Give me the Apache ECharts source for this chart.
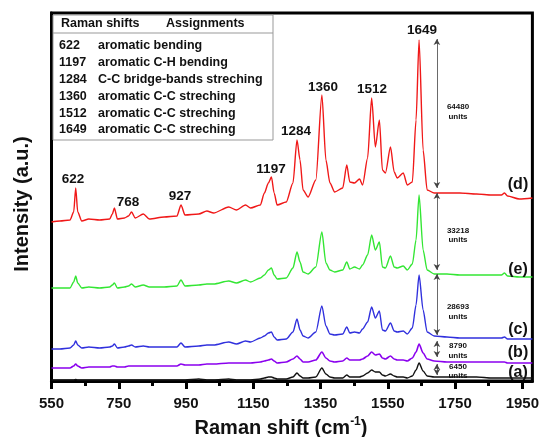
<!DOCTYPE html>
<html>
<head>
<meta charset="utf-8" />
<title>Raman spectra</title>
<script src="https://cdn.jsdelivr.net/npm/echarts@6/dist/echarts.min.js"></script>
<style>
  html, body { margin: 0; padding: 0; background: #fff; }
  #main { width: 542px; height: 437px; }
</style>
</head>
<body>
<div id="main"></div>
<script type="text/javascript">
// Raman shift (cm-1) sample positions, shared by all five spectra
var shifts = [550, 575, 605, 616, 622, 628, 640, 661, 693, 723,
  731, 737, 746, 767, 779, 788, 799, 823, 841, 885,
  923, 935, 947, 988, 1012, 1032, 1077, 1100, 1127, 1142,
  1171, 1183, 1195, 1204, 1212, 1221, 1248, 1268, 1280, 1289,
  1298, 1313, 1336, 1354, 1366, 1378, 1392, 1416, 1428, 1437,
  1451, 1466, 1475, 1490, 1502, 1513, 1525, 1534, 1543, 1558,
  1569, 1578, 1596, 1608, 1623, 1634, 1643, 1655, 1667, 1688,
  1726, 1764, 1814, 1859, 1888, 1897, 1906, 1941, 1980];

// intensities (a.u., stacked with offsets as in the figure)
var specD = [159, 160, 161, 169, 193, 169, 160, 162, 161, 162,
  167, 173, 162, 163, 165, 169, 163, 167, 162, 164,
  165, 176, 166, 167, 170, 168, 174, 171, 176, 173,
  176, 188, 198, 204, 188, 176, 179, 198, 241, 221,
  191, 184, 201, 286, 221, 198, 189, 193, 216, 199,
  198, 202, 196, 223, 283, 234, 261, 211, 208, 234,
  209, 203, 208, 196, 199, 261, 341, 231, 191, 188,
  188, 188, 187, 186, 186, 188, 185, 182, 183];
var specE = [93, 93, 93, 99, 105, 98, 93, 94, 93, 94,
  96, 98, 93, 94, 95, 97, 94, 96, 94, 94,
  95, 101, 95, 96, 97, 97, 100, 98, 101, 99,
  103, 106, 111, 113, 106, 102, 103, 113, 129, 119,
  109, 107, 114, 149, 118, 111, 109, 111, 119, 112,
  114, 112, 116, 126, 146, 131, 139, 114, 113, 125,
  114, 113, 115, 111, 117, 141, 186, 131, 111, 107,
  107, 106, 106, 106, 106, 108, 105, 104, 104];
var specC = [32, 32, 33, 36, 40, 36, 33, 34, 33, 34,
  35, 37, 33, 34, 35, 36, 34, 35, 34, 34,
  34, 38, 34, 35, 36, 36, 39, 37, 40, 39,
  43, 45, 48, 49, 44, 41, 42, 49, 62, 51,
  45, 43, 49, 75, 55, 47, 46, 47, 54, 48,
  49, 48, 52, 59, 74, 63, 70, 51, 50, 58,
  50, 49, 50, 47, 53, 76, 106, 71, 49, 45,
  44, 43, 43, 43, 43, 44, 42, 42, 42];
var specB = [13, 13, 13, 15, 17, 15, 13, 14, 14, 14,
  15, 15, 14, 14, 15, 15, 15, 15, 15, 15,
  15, 17, 16, 16, 17, 17, 18, 18, 18, 18,
  19, 20, 21, 22, 20, 18, 19, 22, 25, 22,
  19, 19, 21, 29, 23, 20, 19, 20, 23, 21,
  21, 21, 22, 25, 29, 26, 27, 23, 22, 25,
  22, 21, 21, 20, 23, 29, 37, 28, 22, 20,
  19, 19, 19, 19, 19, 19, 18, 18, 18];
var specA = [1, 1, 1, 1, 1.5, 1, 1, 1, 1, 1,
  1, 1, 1, 1, 1, 1, 1, 1, 1, 1,
  1, 1, 1, 2, 1, 1, 2, 1, 1, 1,
  2, 3, 4, 4, 3, 2, 2, 4, 8, 5,
  3, 3, 4, 13, 7, 4, 3, 3, 6, 4,
  4, 4, 5, 8, 11, 9, 9, 6, 5, 7,
  5, 4, 4, 3, 5, 11, 18, 10, 5, 4,
  4, 4, 4, 3, 3, 3, 3, 3, 3];

var xTicks = [550, 750, 950, 1150, 1350, 1550, 1750, 1950];
var xMinorTicks = [650, 850, 1050, 1250, 1450, 1650, 1850];

// peak-to-baseline spans marked with arrows, and their texts
var arrowShift = 1696;
var arrowSpans = [[342, 193], [188, 111], [107, 46], [40, 24], [17, 6]];
var unitTexts = ['64480', '33218', '28693', '8790', '6450'];

var peakLabels = ['622', '768', '927', '1197', '1284', '1360', '1512', '1649'];
var curveNames = ['(d)', '(e)', '(c)', '(b)', '(a)'];

var tableShifts = ['622', '1197', '1284', '1360', '1512', '1649'];
var tableAssign = ['aromatic bending', 'aromatic C-H bending', 'C-C bridge-bands streching',
  'aromatic C-C streching', 'aromatic C-C streching', 'aromatic C-C streching'];

var FONT = 'Liberation Sans, Arial, sans-serif';

function pairs(vals) {
  return shifts.map(function (x, i) { return [x, vals[i]]; });
}

function txt(x, y, text, size, align, extra) {
  var st = {
    text: text, fontSize: size, fontWeight: 'bold', fontFamily: FONT, fill: '#111',
    align: align || 'center', textAlign: align || 'center',
    verticalAlign: 'middle', textVerticalAlign: 'middle'
  };
  if (extra) { for (var k in extra) st[k] = extra[k]; }
  return { type: 'text', x: x, y: y, z: 50, silent: true, style: st };
}

var graphics = [];
// table box
graphics.push({ type: 'rect', z: 40, silent: true, shape: { x: 53, y: 15, width: 220, height: 125 },
  style: { fill: '#fff', stroke: '#999', lineWidth: 1 } });
graphics.push({ type: 'line', z: 41, silent: true, shape: { x1: 53, y1: 33, x2: 273, y2: 33 },
  style: { stroke: '#999', lineWidth: 1 } });
graphics.push(txt(61, 24, 'Raman shifts', 12.5, 'left'));
graphics.push(txt(166, 24, 'Assignments', 12.5, 'left'));
tableShifts.forEach(function (s, i) {
  var y = 46 + i * 16.8;
  graphics.push(txt(59, y, s, 12.5, 'left'));
  graphics.push(txt(98, y, tableAssign[i], 12.5, 'left'));
});
// peak labels on (d)
var peakPos = [[73, 179], [128, 202], [180, 196], [271, 169], [296, 131], [323, 87], [372, 89], [422, 30]];
peakLabels.forEach(function (p, i) {
  graphics.push(txt(peakPos[i][0], peakPos[i][1], p, 13.5, 'center'));
});
// curve names
var namePos = [185, 270, 330, 353, 373];
curveNames.forEach(function (n, i) {
  graphics.push(txt(518, namePos[i], n, 16, 'center'));
});
// units texts
var unitPos = [112, 235.5, 312, 351, 371.5];
unitTexts.forEach(function (u, i) {
  graphics.push(txt(458, unitPos[i], u + '\nunits', 8, 'center', { lineHeight: 9.5 }));
});
// y-axis title
var yTitle = txt(22, 204, 'Intensity (a.u.)', 20, 'center');
yTitle.rotation = Math.PI / 2;
graphics.push(yTitle);
// x-axis title with superscript
graphics.push({
  type: 'text', x: 281, y: 428, z: 50, silent: true,
  style: {
    text: '{a|Raman shift (cm}{b|-1}{a|)}',
    align: 'center', textAlign: 'center', verticalAlign: 'middle', textVerticalAlign: 'middle',
    fill: '#111',
    rich: {
      a: { fontSize: 20, fontWeight: 'bold', fontFamily: FONT, fill: '#111', lineHeight: 24 },
      b: { fontSize: 12, fontWeight: 'bold', fontFamily: FONT, fill: '#111', verticalAlign: 'top', lineHeight: 14 }
    }
  }
});

var myChart = echarts.init(document.getElementById('main'));

var lineCommon = { type: 'line', showSymbol: false, smooth: 0.25, smoothMonotone: 'x' };

var option = {
  animation: false,
  backgroundColor: '#fff',
  grid: {
    left: 51.5, right: 6, top: 13, bottom: 56,
    show: true, borderColor: '#000', borderWidth: 3
  },
  xAxis: [
    {
      type: 'value', min: 550, max: 1980, interval: 200,
      axisLine: { show: true, lineStyle: { color: '#000', width: 3 } },
      axisTick: { show: true, length: 8, customValues: xTicks, lineStyle: { color: '#000', width: 3 } },
      axisLabel: {
        customValues: xTicks, margin: 15, color: '#111',
        fontSize: 15, fontWeight: 'bold', fontFamily: FONT,
        formatter: function (v) { return String(v); }
      },
      splitLine: { show: false }
    },
    {
      type: 'value', min: 550, max: 1980, position: 'bottom',
      axisLine: { show: false },
      axisTick: { show: true, length: 5, customValues: xMinorTicks, lineStyle: { color: '#000', width: 3 } },
      axisLabel: { show: false },
      splitLine: { show: false }
    }
  ],
  yAxis: {
    type: 'value', min: 0, max: 368,
    axisLine: { show: true, lineStyle: { color: '#000', width: 3 } },
    axisTick: { show: false },
    axisLabel: { show: false },
    splitLine: { show: false }
  },
  series: [
    Object.assign({ name: 'a', data: pairs(specA), color: '#111', lineStyle: { width: 1.4 } }, lineCommon),
    Object.assign({ name: 'b', data: pairs(specB), color: '#8a00ee', lineStyle: { width: 1.6 } }, lineCommon),
    Object.assign({ name: 'c', data: pairs(specC), color: '#3030dd', lineStyle: { width: 1.4 } }, lineCommon),
    Object.assign({ name: 'e', data: pairs(specE), color: '#33e633', lineStyle: { width: 1.4 } }, lineCommon),
    Object.assign({ name: 'd', data: pairs(specD), color: '#f01818', lineStyle: { width: 1.4 },
      markLine: {
        silent: true,
        symbol: ['arrow', 'arrow'],
        symbolSize: [5, 6],
        label: { show: false },
        lineStyle: { color: '#444', width: 0.8, type: 'solid' },
        data: arrowSpans.map(function (s) {
          return [{ coord: [arrowShift, s[0]] }, { coord: [arrowShift, s[1]] }];
        })
      }
    }, lineCommon)
  ],
  graphic: graphics
};

myChart.setOption(option);
</script>
</body>
</html>
